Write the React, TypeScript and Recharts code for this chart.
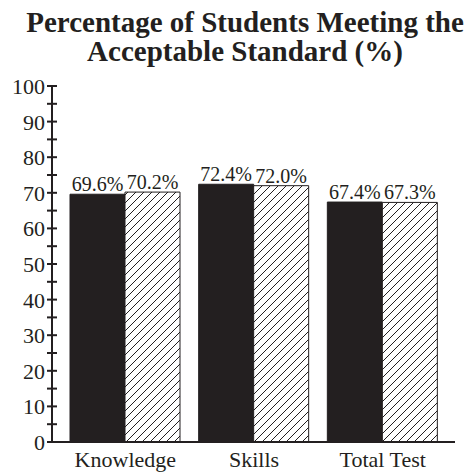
import { Bar, BarChart, LabelList, XAxis, YAxis } from "recharts";

const categories = ["Knowledge", "Skills", "Total Test"];
const solidValues = [69.6, 72.4, 67.4];
const hatchedValues = [70.2, 72.0, 67.3];
const yTicks = [0, 5, 10, 15, 20, 25, 30, 35, 40, 45, 50, 55, 60, 65, 70, 75, 80, 85, 90, 95, 100];

const INK = "#231f20";
const FONT = "Liberation Serif";

const data = categories.map((name, i) => ({
  name,
  solid: solidValues[i],
  hatched: hatchedValues[i],
}));

function YTick(props: any) {
  const { x, y, payload } = props;
  const v = payload.value;
  return (
    <g>
      <line x1={x - 5} x2={x + 5} y1={y} y2={y} stroke={INK} strokeWidth={2} />
      {v % 10 === 0 && (
        <text x={x - 7} y={y} dy="0.36em" textAnchor="end" fontSize={22} fontFamily={FONT} fill={INK}>
          {v}
        </text>
      )}
    </g>
  );
}

function XTick(props: any) {
  const { x, y, payload } = props;
  return (
    <text x={x} y={y + 25} textAnchor="middle" fontSize={22} fontFamily={FONT} fill={INK}>
      {payload.value}
    </text>
  );
}

function EndTick(props: any) {
  const { x, y } = props;
  return <line x1={x - 1} x2={x - 1} y1={y} y2={y - 6} stroke={INK} strokeWidth={2} />;
}

export default function App() {
  return (
    <div style={{ position: "fixed", left: 0, top: 0, width: 470, height: 472, background: "#fff" }}>
      <div
        style={{
          position: "absolute",
          left: 20,
          top: 8,
          width: 450,
          textAlign: "center",
          fontFamily: FONT,
          fontWeight: 700,
          fontSize: 29,
          lineHeight: "29px",
          color: INK,
          whiteSpace: "nowrap",
        }}
      >
        <div>Percentage of Students Meeting the</div>
        <div>Acceptable Standard (%)</div>
      </div>
      <BarChart
        width={470}
        height={472}
        data={data}
        margin={{ top: 86, right: 15, bottom: 0, left: 0 }}
        barCategoryGap={9}
        barGap={0}
        style={{ position: "absolute", left: 0, top: 0 }}
      >
        <defs>
          <pattern id="hatch" patternUnits="userSpaceOnUse" width={8} height={8}>
            <rect width={8} height={8} fill="#fff" />
            <path d="M-2,2 L2,-2 M0,8 L8,0 M6,10 L10,6" stroke={INK} strokeWidth={1} />
          </pattern>
        </defs>
        <XAxis
          dataKey="name"
          height={30}
          padding={{ left: 9, right: 8 }}
          axisLine={{ stroke: INK, strokeWidth: 2 }}
          tickLine={false}
          tickSize={0}
          tickMargin={0}
          tick={<XTick />}
        />
        <YAxis
          yAxisId="l"
          width={52}
          domain={[0, 100]}
          ticks={yTicks}
          interval={0}
          axisLine={{ stroke: INK, strokeWidth: 2 }}
          tickLine={false}
          tickSize={0}
          tickMargin={0}
          tick={<YTick />}
        />
        <YAxis
          yAxisId="r"
          orientation="right"
          width={0}
          domain={[0, 100]}
          ticks={[0]}
          axisLine={false}
          tickLine={false}
          tickSize={0}
          tickMargin={0}
          tick={<EndTick />}
        />
        <Bar yAxisId="l" dataKey="solid" fill={INK} stroke={INK} strokeWidth={1} isAnimationActive={false}>
          <LabelList
            dataKey="solid"
            position="top"
            offset={3}
            formatter={(v: any) => `${Number(v).toFixed(1)}%`}
            style={{ fontSize: 20, fontFamily: FONT, fill: INK }}
          />
        </Bar>
        <Bar yAxisId="l" dataKey="hatched" fill="url(#hatch)" stroke={INK} strokeWidth={1} isAnimationActive={false}>
          <LabelList
            dataKey="hatched"
            position="top"
            offset={3}
            formatter={(v: any) => `${Number(v).toFixed(1)}%`}
            style={{ fontSize: 20, fontFamily: FONT, fill: INK }}
          />
        </Bar>
      </BarChart>
    </div>
  );
}
